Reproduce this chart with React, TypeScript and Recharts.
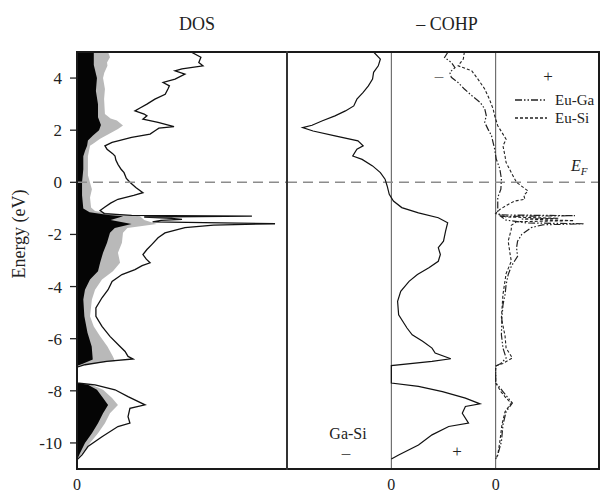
import React from "react";
import {
  ComposedChart,
  Line,
  Area,
  XAxis,
  YAxis,
  ReferenceLine,
  Legend,
} from "recharts";

const FONT = '"Liberation Serif", "Times New Roman", serif';

// energy axis (eV)
const ENERGY_DOMAIN: [number, number] = [-11, 5];
const ENERGY_TICKS = [-10, -8, -6, -4, -2, 0, 2, 4];

// [energy, value] pairs
const DOS_TOTAL: [number, number][] = [
  [5.0, 5.43], [4.8, 5.9], [4.6, 5.8], [4.47, 6.0], [4.35, 5.0], [4.28, 4.67],
  [4.15, 5.14], [3.96, 4.67], [3.83, 4.1], [3.7, 4.4], [3.58, 4.33], [3.38, 4.2],
  [3.19, 3.71], [3.0, 3.33], [2.85, 3.0], [2.74, 2.76], [2.62, 3.2], [2.55, 3.33],
  [2.42, 3.14], [2.3, 3.86], [2.14, 4.62], [2.08, 3.9], [2.0, 3.75], [1.85, 3.48],
  [1.72, 2.6], [1.6, 2.0], [1.53, 1.67], [1.4, 1.33], [1.27, 1.43], [1.1, 1.7],
  [1.01, 1.81], [0.85, 1.85], [0.69, 1.95], [0.5, 2.1], [0.37, 2.24], [0.15, 2.35],
  [0.0, 2.52], [-0.2, 2.8], [-0.4, 3.14], [-0.5, 2.7], [-0.65, 1.95], [-0.8, 1.6],
  [-0.95, 1.33], [-1.08, 1.1], [-1.2, 1.3], [-1.27, 2.6], [-1.3, 8.33], [-1.33, 3.2],
  [-1.38, 4.5], [-1.42, 5.0], [-1.46, 4.0], [-1.52, 3.6], [-1.59, 9.43], [-1.64, 6.5],
  [-1.74, 5.14], [-1.94, 4.19], [-2.13, 3.86], [-2.38, 3.57], [-2.58, 3.33],
  [-2.77, 3.14], [-2.95, 3.3], [-3.09, 3.48], [-3.2, 3.1], [-3.35, 2.76], [-3.54, 2.14],
  [-3.8, 1.67], [-4.12, 1.48], [-4.43, 1.19], [-4.82, 0.9], [-5.14, 0.9], [-5.53, 1.19],
  [-5.91, 1.57], [-6.3, 2.05], [-6.49, 2.29], [-6.68, 2.43], [-6.78, 2.67], [-6.87, 1.4],
  [-7.0, 0.38], [-7.09, 0], [-7.7, 0], [-7.77, 0.86], [-7.96, 1.81], [-8.22, 2.43],
  [-8.54, 3.24], [-8.67, 2.52], [-8.99, 2.43], [-9.24, 2.52], [-9.37, 1.95],
  [-9.76, 1.19], [-10.14, 0.52], [-10.46, 0.24], [-10.65, 0],
];

const DOS_GRAY: [number, number][] = [
  [5.0, 1.48], [4.8, 1.57], [4.6, 1.43], [4.47, 1.45], [4.2, 1.3], [4.0, 1.24],
  [3.58, 1.33], [3.2, 1.29], [2.62, 1.33], [2.45, 1.6], [2.37, 1.9], [2.18, 2.19],
  [2.05, 1.95], [1.92, 1.67], [1.67, 1.1], [1.5, 0.8], [1.4, 0.62], [1.0, 0.52],
  [0.27, 0.52], [-0.27, 0.71], [-0.58, 0.62], [-0.97, 0.67], [-1.1, 0.86], [-1.2, 1.6],
  [-1.3, 3.0], [-1.45, 3.2], [-1.6, 3.8], [-1.75, 2.4], [-1.94, 2.19], [-2.32, 2.14],
  [-2.7, 1.95], [-3.09, 2.05], [-3.41, 1.71], [-3.73, 1.19], [-4.12, 0.86], [-4.5, 0.71],
  [-5.14, 0.62], [-5.53, 0.8], [-5.91, 1.1], [-6.3, 1.45], [-6.68, 1.71], [-6.87, 1.81],
  [-6.95, 0.8], [-7.05, 0], [-7.7, 0], [-7.77, 0.7], [-7.96, 1.24], [-8.28, 1.67],
  [-8.54, 1.95], [-8.86, 1.57], [-9.24, 1.33], [-9.63, 1.0], [-10.0, 0.62],
  [-10.4, 0.24], [-10.65, 0],
];

const DOS_BLACK: [number, number][] = [
  [5.0, 0.8], [4.5, 0.8], [4.0, 0.95], [3.5, 0.9], [3.0, 1.0], [2.5, 1.0], [2.2, 1.14],
  [2.0, 1.05], [1.8, 0.76], [1.6, 0.52], [1.4, 0.48], [1.2, 0.38], [1.0, 0.3], [0.5, 0.3],
  [0.0, 0.24], [-0.5, 0.24], [-1.0, 0.3], [-1.15, 0.6], [-1.25, 1.5], [-1.3, 2.2],
  [-1.45, 1.6], [-1.6, 2.6], [-1.75, 1.8], [-1.94, 1.57], [-2.32, 1.43], [-2.7, 1.24],
  [-3.09, 1.1], [-3.41, 1.0], [-3.73, 0.62], [-4.12, 0.38], [-4.5, 0.3], [-5.14, 0.35],
  [-5.77, 0.5], [-6.3, 0.7], [-6.8, 0.75], [-6.95, 0.3], [-7.05, 0], [-7.7, 0],
  [-7.77, 0.52], [-7.96, 0.95], [-8.28, 1.24], [-8.54, 1.48], [-8.86, 1.24], [-9.24, 1.0],
  [-9.63, 0.71], [-10.0, 0.38], [-10.4, 0.14], [-10.65, 0],
];

const COHP_GASI: [number, number][] = [
  [5.0, -0.17], [4.73, -0.105], [4.47, -0.125], [4.22, -0.17], [3.96, -0.18],
  [3.7, -0.22], [3.45, -0.27], [3.19, -0.33], [2.93, -0.36], [2.74, -0.44],
  [2.55, -0.54], [2.36, -0.66], [2.19, -0.76], [2.1, -0.85], [1.97, -0.75],
  [1.78, -0.54], [1.59, -0.32], [1.4, -0.27], [1.27, -0.33], [1.01, -0.37],
  [0.88, -0.28], [0.63, -0.18], [0.37, -0.105], [0.12, -0.06], [-0.14, -0.04],
  [-0.46, -0.02], [-0.72, 0.02], [-0.97, 0.1], [-1.17, 0.26], [-1.36, 0.45],
  [-1.55, 0.54], [-1.87, 0.52], [-2.26, 0.5], [-2.51, 0.45], [-2.77, 0.47],
  [-3.03, 0.45], [-3.28, 0.36], [-3.54, 0.25], [-3.8, 0.17], [-4.18, 0.09],
  [-4.57, 0.06], [-5.08, 0.07], [-5.59, 0.15], [-5.85, 0.2], [-6.1, 0.3],
  [-6.36, 0.39], [-6.55, 0.42], [-6.77, 0.57], [-6.87, 0.39], [-7.03, 0], [-7.7, 0],
  [-7.83, 0.26], [-8.03, 0.49], [-8.28, 0.71], [-8.5, 0.85], [-8.6, 0.71],
  [-8.86, 0.68], [-9.24, 0.74], [-9.37, 0.55], [-9.69, 0.39], [-10.08, 0.26],
  [-10.46, 0.07], [-10.62, 0],
];

const COHP_EUGA: [number, number][] = [
  [5.0, -0.457], [4.79, -0.49], [4.6, -0.425], [4.4, -0.39], [4.22, -0.44],
  [4.03, -0.425], [3.83, -0.36], [3.58, -0.3], [3.33, -0.23], [3.07, -0.15],
  [2.82, -0.105], [2.56, -0.09], [2.3, -0.105], [2.05, -0.075], [1.79, -0.04],
  [1.53, -0.025], [1.28, -0.01], [0.9, 0.005], [0.51, 0.04], [0.13, 0.055],
  [-0.26, 0.05], [-0.58, 0.02], [-0.9, 0.02], [-1.15, 0.02], [-1.25, 0.04],
  [-1.28, 0.76], [-1.31, 0.05], [-1.45, 0.1], [-1.56, 0.3], [-1.59, 0.85],
  [-1.63, 0.45], [-1.74, 0.34], [-2.0, 0.25], [-2.26, 0.21], [-2.51, 0.2],
  [-2.84, 0.21], [-3.03, 0.18], [-3.22, 0.15], [-3.54, 0.12], [-3.93, 0.1],
  [-4.3, 0.09], [-4.7, 0.07], [-5.2, 0.06], [-5.85, 0.055], [-6.36, 0.07],
  [-6.74, 0.1], [-6.95, 0.05], [-7.05, 0], [-7.7, 0], [-7.77, 0.02], [-8.03, 0.07],
  [-8.28, 0.12], [-8.47, 0.16], [-8.8, 0.1], [-9.3, 0.07], [-9.95, 0.055],
  [-10.46, 0.02], [-10.62, 0],
];

const COHP_EUSI: [number, number][] = [
  [5.0, -0.3], [4.73, -0.31], [4.47, -0.36], [4.28, -0.23], [3.96, -0.17],
  [3.58, -0.105], [3.19, -0.06], [2.82, -0.025], [2.56, -0.01], [2.17, 0.02],
  [1.85, 0.07], [1.65, 0.1], [1.4, 0.07], [1.0, 0.09], [0.76, 0.1], [0.37, 0.15],
  [0.0, 0.2], [-0.33, 0.31], [-0.5, 0.27], [-0.65, 0.28], [-0.72, 0.18],
  [-0.85, 0.12], [-1.04, 0.04], [-1.2, 0.0], [-1.33, 0.1], [-1.38, 0.6],
  [-1.41, 0.25], [-1.47, 0.75], [-1.51, 0.2], [-1.65, 0.15], [-1.8, 0.15],
  [-2.26, 0.12], [-2.8, 0.14], [-3.03, 0.15], [-3.5, 0.1], [-4.3, 0.07],
  [-5.2, 0.055], [-5.9, 0.09], [-6.36, 0.1], [-6.74, 0.16], [-6.95, 0.07],
  [-7.05, 0], [-7.7, 0], [-8.03, 0.05], [-8.28, 0.1], [-8.47, 0.15], [-8.8, 0.09],
  [-9.3, 0.06], [-9.95, 0.04], [-10.46, 0.02], [-10.62, 0],
];

const DASHES: Record<string, string> = {
  "Eu-Ga": "7 2 1.5 2 1.5 2",
  "Eu-Si": "3 2",
};

const rows = (pairs: [number, number][]) => pairs.map(([e, v]) => ({ e, v }));

function Txt({ x, y, size = 18, color = "#222", italic = false, children }: any) {
  return (
    <div
      style={{
        position: "absolute",
        left: x,
        top: y,
        transform: "translate(-50%, -50%)",
        fontSize: size,
        lineHeight: 1,
        color,
        fontStyle: italic ? "italic" : "normal",
        whiteSpace: "nowrap",
      }}
    >
      {children}
    </div>
  );
}

function renderLegend(props: any) {
  const items = (props.payload || []).filter((p: any) => DASHES[p.value]);
  return (
    <div>
      {items.map((item: any) => (
        <div key={item.value} style={{ display: "flex", alignItems: "center", height: 18 }}>
          <svg width={32} height={6}>
            <line x1={0} y1={3} x2={32} y2={3} stroke="#222" strokeWidth={1.3} strokeDasharray={DASHES[item.value]} />
          </svg>
          <span style={{ marginLeft: 8, fontSize: 15, fontFamily: FONT, color: "#222" }}>{item.value}</span>
        </div>
      ))}
    </div>
  );
}

const zeroLabel = { value: "0", position: "bottom" as const, offset: 10, fill: "#222", fontSize: 16, fontFamily: FONT };

export default function App() {
  return (
    <div
      style={{
        position: "absolute",
        left: 0,
        top: 0,
        width: 600,
        height: 497,
        background: "#fff",
        fontFamily: FONT,
        color: "#222",
        overflow: "hidden",
      }}
    >
      <div style={{ position: "absolute", left: 0, top: 0 }}>
        <ComposedChart layout="vertical" width={290} height={497} margin={{ top: 52, right: 3, bottom: 28, left: 0 }}>
          <XAxis type="number" domain={[0, 10]} hide allowDataOverflow />
          <YAxis
            type="number"
            dataKey="e"
            domain={ENERGY_DOMAIN}
            ticks={ENERGY_TICKS}
            reversed
            width={77}
            tickSize={7}
            tickMargin={8}
            axisLine={false}
            tickLine={{ stroke: "#222", strokeWidth: 1.3 }}
            tick={{ fill: "#222", fontSize: 17, fontFamily: FONT }}
            allowDataOverflow
          />
          <Area data={rows(DOS_GRAY)} dataKey="v" type="linear" fill="#b9b9b9" fillOpacity={1} stroke="none" isAnimationActive={false} />
          <Area data={rows(DOS_BLACK)} dataKey="v" type="linear" fill="#050505" fillOpacity={1} stroke="none" isAnimationActive={false} />
          <Line data={rows(DOS_TOTAL)} dataKey="v" type="linear" stroke="#111" strokeWidth={1.3} dot={false} isAnimationActive={false} />
          <ReferenceLine y={0} stroke="#8c8c8c" strokeWidth={1.5} strokeDasharray="10 6" />
          <ReferenceLine x={0} stroke="none" label={zeroLabel} />
        </ComposedChart>
      </div>

      <div style={{ position: "absolute", left: 287, top: 0 }}>
        <ComposedChart layout="vertical" width={313} height={497} margin={{ top: 52, right: 0, bottom: 28, left: 0 }}>
          <XAxis xAxisId="gasi" type="number" domain={[-1, 2]} hide allowDataOverflow />
          <XAxis xAxisId="eu" type="number" domain={[-2, 1]} hide allowDataOverflow />
          <YAxis type="number" dataKey="e" domain={ENERGY_DOMAIN} reversed hide allowDataOverflow />
          <ReferenceLine xAxisId="gasi" x={0} stroke="#555" strokeWidth={1} label={zeroLabel} />
          <ReferenceLine xAxisId="eu" x={0} stroke="#555" strokeWidth={1} label={zeroLabel} />
          <ReferenceLine xAxisId="gasi" y={0} stroke="#8c8c8c" strokeWidth={1.5} strokeDasharray="10 6" />
          <Line xAxisId="gasi" name="Ga-Si" legendType="none" data={rows(COHP_GASI)} dataKey="v" type="linear" stroke="#111" strokeWidth={1.2} dot={false} isAnimationActive={false} />
          <Line xAxisId="eu" name="Eu-Ga" data={rows(COHP_EUGA)} dataKey="v" type="linear" stroke="#222" strokeWidth={1.2} strokeDasharray={DASHES["Eu-Ga"]} dot={false} isAnimationActive={false} />
          <Line xAxisId="eu" name="Eu-Si" data={rows(COHP_EUSI)} dataKey="v" type="linear" stroke="#222" strokeWidth={1.1} strokeDasharray={DASHES["Eu-Si"]} dot={false} isAnimationActive={false} />
          <Legend
            layout="vertical"
            align="center"
            verticalAlign="middle"
            content={renderLegend}
            wrapperStyle={{ top: 91, left: 228, width: 85 }}
          />
        </ComposedChart>
      </div>

      {/* plot frame and panel divider */}
      <div style={{ position: "absolute", left: 76, top: 51, width: 524, height: 419, border: "2px solid #1a1a1a", boxSizing: "border-box", pointerEvents: "none" }} />
      <div style={{ position: "absolute", left: 286, top: 51, width: 2, height: 419, background: "#333", pointerEvents: "none" }} />

      <Txt x={197} y={24}>DOS</Txt>
      <Txt x={447} y={24}>– COHP</Txt>
      <div
        style={{
          position: "absolute",
          left: 19,
          top: 234,
          transform: "translate(-50%, -50%) rotate(-90deg)",
          fontSize: 18,
          lineHeight: 1,
          whiteSpace: "nowrap",
        }}
      >
        Energy (eV)
      </div>
      <div style={{ position: "absolute", left: 571, top: 158, fontSize: 16, fontStyle: "italic", lineHeight: 1 }}>
        E<sub style={{ fontSize: 11 }}>F</sub>
      </div>
      <Txt x={548} y={76} size={17}>+</Txt>
      <Txt x={439} y={75} size={17} color="#777">–</Txt>
      <Txt x={348} y={434} size={16}>Ga-Si</Txt>
      <Txt x={346} y={452} size={17} color="#555">–</Txt>
      <Txt x={457} y={451} size={17}>+</Txt>
    </div>
  );
}
